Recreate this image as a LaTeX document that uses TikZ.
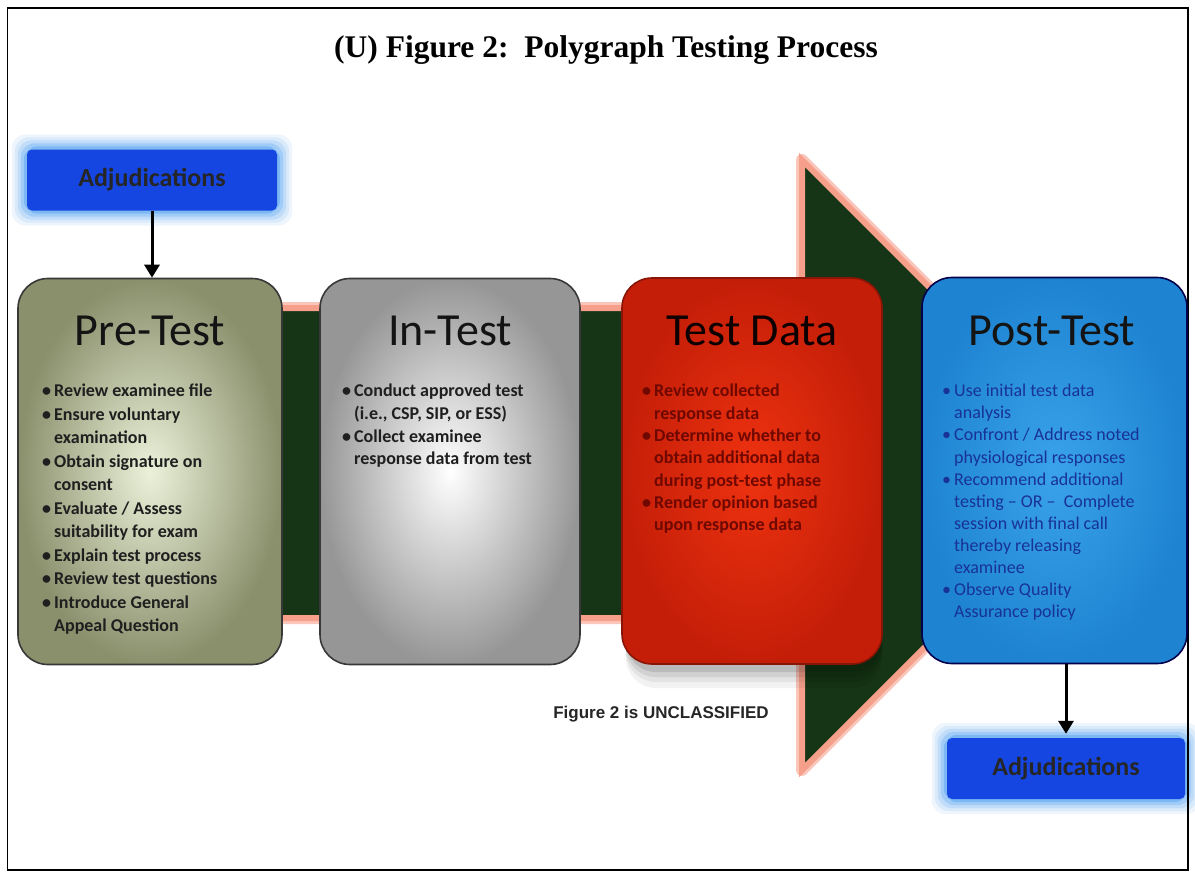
\documentclass[tikz,border=0pt]{standalone}
\usepackage{fontspec}
\setmainfont{Carlito}
\newfontfamily\titlefont{Liberation Serif}
\newfontfamily\arialfont{Liberation Sans}
\usetikzlibrary{arrows.meta,backgrounds}
\definecolor{bandgreen}{RGB}{22,52,22}
\definecolor{pinkglow}{RGB}{246,160,140}
\definecolor{preout}{RGB}{138,144,108}
\definecolor{prein}{RGB}{236,242,218}
\definecolor{inout}{RGB}{150,150,150}
\definecolor{inin}{RGB}{255,255,255}
\definecolor{tdout}{RGB}{196,30,8}
\definecolor{tdin}{RGB}{238,50,16}
\definecolor{ptout}{RGB}{30,132,210}
\definecolor{ptin}{RGB}{58,162,234}
\definecolor{adjblue}{RGB}{22,70,225}
\definecolor{adjglow}{RGB}{40,140,240}
\definecolor{ptext}{RGB}{24,50,150}
\definecolor{tdtext}{RGB}{110,8,0}
\newcommand\bl{\makebox[12pt][l]{\textbullet}}
\newcommand\ind{\hspace*{12pt}}
\tikzset{
  stagebox/.style={draw=black!78, line width=1.6pt, rounded corners=30pt,
    minimum width=#1, minimum height=386pt, inner sep=0pt},
  stagetitle/.style={font=\fontsize{46}{50}\selectfont, text=black!92, inner sep=0pt},
  bullets/.style={font=\fontsize{18}{23.5}\selectfont\bfseries, align=left,
    inner sep=0pt, anchor=north west, text=black!88},
  adjbox/.style={fill=adjblue, rounded corners=5pt, minimum width=#1,
    minimum height=61pt, inner sep=0pt,
    font=\fontsize{26}{28}\selectfont\bfseries, text=black!85},
  flow/.style={line width=3pt, -{Triangle[width=15pt,length=13pt]}},
}
\begin{document}
\begin{tikzpicture}[x=1pt,y=-1pt]
\useasboundingbox (0,0) rectangle (1195,878);
% frame
\draw[line width=1.6pt] (7.5,8) rectangle (1188,870);
% title
\node[font=\titlefont\bfseries\fontsize{31.5}{34}\selectfont, inner sep=0pt] (title) at (606,50)
  {(U) Figure 2:\ \ Polygraph Testing Process};
% big arrow
\draw[pinkglow!60, line width=12pt, line join=round]
  (270,308) -- (802,308) -- (802,160) -- (1107,465) -- (802,770) -- (802,618) -- (270,618) -- cycle;
\draw[pinkglow, line width=6pt, line join=miter, fill=bandgreen]
  (270,308) -- (802,308) -- (802,160) -- (1107,465) -- (802,770) -- (802,618) -- (270,618) -- cycle;
% soft shadow under Test Data
\foreach \s/\o in {22/0.05, 16/0.06, 11/0.08, 6/0.1}
  \fill[black, opacity=\o, rounded corners=30pt] (626,500) rectangle (882,666+\s);
% stage boxes
\node[stagebox=264pt, shade, inner color=prein, outer color=preout] (pre) at (150,471.5) {};
\node[stagebox=260pt, shade, inner color=inin, outer color=inout] (in) at (450,471.5) {};
\node[stagebox=260pt, draw=tdout!70!black, shade, inner color=tdin, outer color=tdout] (td) at (752,471) {};
\node[stagebox=265pt, draw=black!70!blue, shade, inner color=ptin, outer color=ptout] (post) at (1054.5,470.5) {};
% stage titles
\node[stagetitle] (preT) at (150,331) {Pre-Test};
\node[stagetitle] (inT) at (450,331) {In-Test};
\node[stagetitle, text=black!95!red] (tdT) at (752,331) {Test Data};
\node[stagetitle] (postT) at (1052,331) {Post-Test};
% bullets
\node[bullets] (preB) at (42,384) {%
\bl Review examinee file\\
\bl Ensure voluntary\\
\ind examination\\
\bl Obtain signature on\\
\ind consent\\
\bl Evaluate / Assess\\
\ind suitability for exam\\
\bl Explain test process\\
\bl Review test questions\\
\bl Introduce General\\
\ind Appeal Question};
\node[bullets, font=\fontsize{18}{22.7}\selectfont\bfseries] (inB) at (342,384) {%
\bl Conduct approved test\\
\ind (i.e., CSP, SIP, or ESS)\\
\bl Collect examinee\\
\ind response data from test};
\node[bullets, text=tdtext, font=\fontsize{18}{22.3}\selectfont\bfseries] (tdB) at (642,384) {%
\bl Review collected\\
\ind response data\\
\bl Determine whether to\\
\ind obtain additional data\\
\ind during post-test phase\\
\bl Render opinion based\\
\ind upon response data};
\node[bullets, text=ptext, font=\fontsize{18}{22.1}\selectfont] (postB) at (942,384) {%
\bl Use initial test data\\
\ind analysis\\
\bl Confront / Address noted\\
\ind physiological responses\\
\bl Recommend additional\\
\ind testing -- OR --\ \ Complete\\
\ind session with final call\\
\ind thereby releasing\\
\ind examinee\\
\bl Observe Quality\\
\ind Assurance policy};
% adjudications
\node[adjbox=250pt] (adjA) at (152,180) {Adjudications};
\node[adjbox=238pt] (adjB) at (1066,768.5) {Adjudications};
\begin{scope}[on background layer]
  \fill[white] (0,0) rectangle (1195,878);
  \foreach \s/\o in {15/0.08, 12/0.1, 9/0.14, 6/0.2, 3/0.3} {
    \fill[adjglow, opacity=\o, rounded corners=14pt]
      ([shift={(-\s,-\s)}]adjA.north west) rectangle ([shift={(\s,\s)}]adjA.south east);
    \fill[adjglow, opacity=\o, rounded corners=14pt]
      ([shift={(-\s,-\s)}]adjB.north west) rectangle ([shift={(\s,\s)}]adjB.south east);
  }
\end{scope}
% connectors
\draw[flow] (adjA.south) -- (adjA.south |- pre.north);
\draw[flow] (adjB.north |- post.south) -- ([yshift=4pt]adjB.north);
% classification
\node[font=\arialfont\bfseries\fontsize{17}{19}\selectfont, text=black!85, inner sep=0pt] (cls) at (661,714)
  {Figure 2 is UNCLASSIFIED};
\end{tikzpicture}
\end{document}
